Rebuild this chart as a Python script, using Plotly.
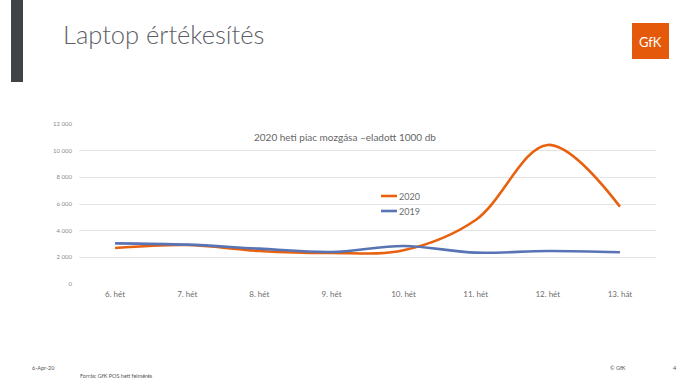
import plotly.graph_objects as go

weeks = ["6. hét", "7. hét", "8. hét", "9. hét", "10. hét", "11. hét", "12. hét", "13. hát"]
sales_2020 = [2700, 2925, 2480, 2330, 2530, 4800, 10430, 5800]
sales_2019 = [3050, 2950, 2650, 2400, 2850, 2350, 2480, 2380]
series_names = ["2020", "2019"]
series_colors = ["#E8610F", "#5874B5"]
y_ticks = [0, 2000, 4000, 6000, 8000, 10000, 12000]
y_tick_labels = ["0", "2 000", "4 000", "6 000", "8 000", "10 000", "12 000"]

FONT = "Lato, 'Open Sans', sans-serif"
W, H = 577, 160
L, B = 79, 284


def px(x):
    return (x - L) / W


def py(y):
    return (B - y) / H


fig = go.Figure()
for name, vals, col in zip(series_names, [sales_2020, sales_2019], series_colors):
    fig.add_trace(go.Scatter(
        x=weeks, y=vals, mode="lines", name=name,
        line=dict(color=col, width=2.6, shape="spline", smoothing=1.0),
        showlegend=False, hoverinfo="skip",
    ))

fig.update_layout(
    width=690, height=388,
    margin=dict(l=79, r=34, t=124, b=104),
    paper_bgcolor="white", plot_bgcolor="white",
    font=dict(family=FONT, color="#7f7f7f"),
    xaxis=dict(range=[-0.5, len(weeks) - 0.5], showgrid=False, showline=False,
               zeroline=False, ticks="",
               tickfont=dict(size=8, color="#6d6d6d"), ticklabelstandoff=4),
    yaxis=dict(range=[0, 12000], tickvals=y_ticks, ticktext=y_tick_labels,
               showgrid=True, gridcolor="#e3e3e3", gridwidth=1, zeroline=False,
               showline=False, ticks="", tickfont=dict(size=6, color="#8a8a8a"),
               ticklabelstandoff=6),
)

# left dark bar
fig.add_shape(type="rect", xref="paper", yref="paper",
              x0=px(11), x1=px(23), y0=py(-2), y1=py(82),
              fillcolor="#3f4347", line=dict(width=0), layer="above")
# GfK logo square
fig.add_shape(type="rect", xref="paper", yref="paper",
              x0=px(632), x1=px(669), y0=py(23), y1=py(59),
              fillcolor="#E55A0A", line=dict(width=0))
fig.add_annotation(x=px(650), y=py(42), xref="paper", yref="paper",
                   text="GfK", showarrow=False, font=dict(family=FONT, size=13, color="white"),
                   xanchor="center", yanchor="middle")

# page title
fig.add_annotation(x=px(61), y=py(34), xref="paper", yref="paper",
                   text="Laptop értékesítés", showarrow=False, xanchor="left", yanchor="middle",
                   font=dict(family="'Lato Light', Lato, sans-serif", size=25.5,
                             color="#5c6066", weight=300))
# chart title
fig.add_annotation(x=px(345), y=py(137), xref="paper", yref="paper",
                   text="2020 heti piac mozgása –eladott 1000 db", showarrow=False,
                   xanchor="center", yanchor="middle",
                   font=dict(family=FONT, size=10, color="#666666"))

# manual legend
legend_y = [196, 211]
for name, col, ly in zip(series_names, series_colors, legend_y):
    fig.add_shape(type="line", xref="paper", yref="paper",
                  x0=px(381), x1=px(397), y0=py(ly), y1=py(ly),
                  line=dict(color=col, width=2.6))
    fig.add_annotation(x=px(397), y=py(ly), xref="paper", yref="paper", text=name,
                       showarrow=False, xanchor="left", yanchor="middle",
                       font=dict(family=FONT, size=9, color="#6d6d6d"))

# footer
footer = [("6-Apr-20", 30, 368), ("Forrás: GfK POS heti felmérés", 78, 376),
          ("© GfK", 608, 368), ("4", 671, 368)]
for txt, fx, fy in footer:
    fig.add_annotation(x=px(fx), y=py(fy), xref="paper", yref="paper", text=txt,
                       showarrow=False, xanchor="left", yanchor="middle",
                       font=dict(family=FONT, size=5.5, color="#555555"))

fig.write_html("out.html", config={"displayModeBar": False},
               post_script="document.body.style.margin='0';")
